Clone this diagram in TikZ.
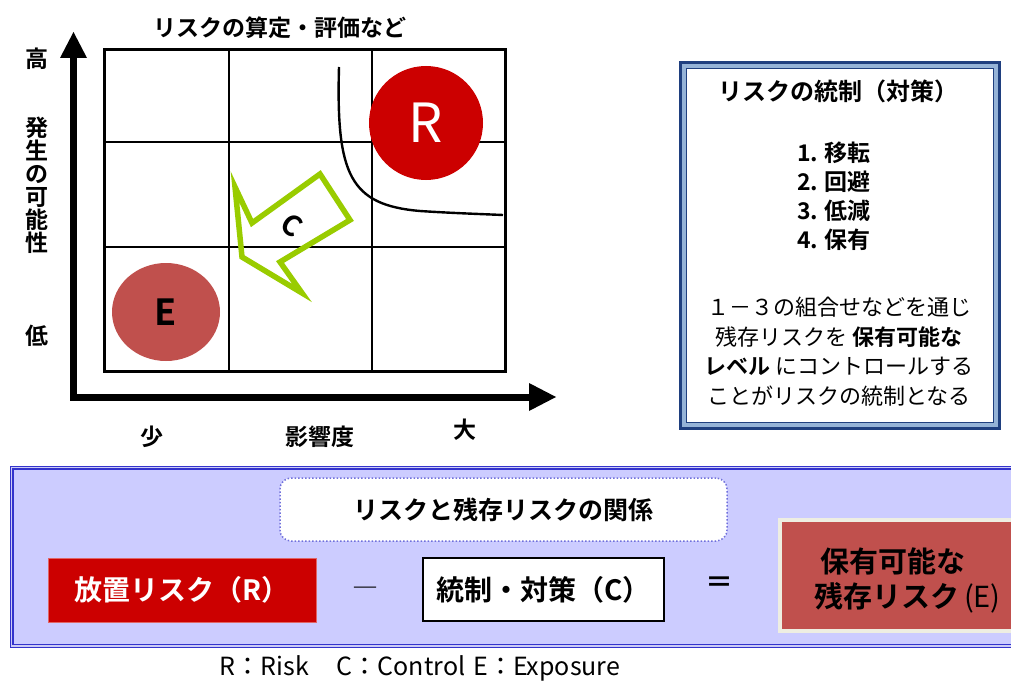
\documentclass[tikz,border=0pt]{standalone}
\usepackage{fontspec}
\setmainfont{Noto Sans CJK JP}[BoldFont={Noto Sans CJK JP Bold}]
\usetikzlibrary{shapes.geometric}
\definecolor{rred}{HTML}{CC0000}
\definecolor{ered}{HTML}{C0504D}
\definecolor{lgreen}{HTML}{99CC00}
\definecolor{dblue}{HTML}{1F3F7F}
\definecolor{mblue}{HTML}{95B3D7}
\definecolor{lav}{HTML}{CCCCFF}
\definecolor{pblue}{HTML}{3333CC}
\definecolor{beige}{HTML}{EEEEE2}
\newcommand{\fs}[1]{\fontsize{#1}{#1}\selectfont}
\tikzset{
  lbl/.style={inner sep=0pt, font=\fs{23}\bfseries},
  gridln/.style={line width=2pt},
  boxtxt/.style={inner sep=0pt, font=\fs{28}\bfseries},
}
\begin{document}
\begin{tikzpicture}[x=1pt,y=-1pt]
\useasboundingbox (0,0) rectangle (1011,682);
% title
\node[lbl] (t1) at (280,28) {リスクの算定・評価など};
% grid
\draw[line width=3pt] (104,50) rectangle (505,371);
\draw[gridln] (229,50) -- (229,371);
\draw[gridln] (372,50) -- (372,371);
\draw[gridln] (104,142) -- (505,142);
\draw[gridln] (104,247) -- (505,247);
% axes
\draw[line width=7pt, line join=miter] (73,56) -- (73,397) -- (532,397);
\fill (60,58) -- (73.5,32) -- (87,58) -- cycle;
\fill (529,383) -- (556,397) -- (529,411) -- cycle;
% axis labels
\node[lbl] (hi) at (37,59) {高};
\node[lbl, align=center, text depth=0pt] (py) at (37,184) {発\\[0pt]生\\[0pt]の\\[0pt]可\\[0pt]能\\[0pt]性};
\node[lbl] (lo) at (37,336) {低};
\node[lbl] (sm) at (152,437) {少};
\node[lbl] (im) at (320,437) {影響度};
\node[lbl] (bg) at (465,430) {大};
% curve
\draw[line width=2.4pt] (339,67) .. controls (336,175) and (350,205) .. (420,211) .. controls (450,213) and (480,214) .. (503,215);
% circles
\node[circle, fill=rred, minimum size=114pt, inner sep=0pt, text=white, font=\fs{54}] (R) at (426,123) {R};
\node[ellipse, fill=ered, minimum width=108pt, minimum height=98pt, inner sep=0pt, font=\fs{36}\bfseries] (E) at (166,312) {E};
% green arrow
\draw[lgreen, line width=5.5pt, line join=miter] (235,187) -- (242,257) -- (302,293) -- (280,262) -- (350,220) -- (320,174) -- (252,223) -- cycle;
\node[inner sep=0pt, rotate=-35] (C) at (292,225) {\fontsize{28}{28}\selectfont\bfseries C};
% right box
\draw[mblue, line width=6pt, fill=white] (683.5,65.5) rectangle (996.5,425.5);
\draw[dblue, line width=2.5pt] (680.5,62.5) rectangle (999.5,428.5);
\draw[dblue, line width=1.2pt] (686.5,68.5) rectangle (993.5,422.5);
\node[inner sep=0pt, font=\fs{24}\bfseries] (rt) at (838,91) {リスクの統制（対策）};
\node[inner sep=0pt, font=\fs{23}\bfseries, align=left, anchor=north west] (list) at (797,142) {1.\;移転\\[6pt]2.\;回避\\[6pt]3.\;低減\\[6pt]4.\;保有};
\node[inner sep=0pt, font=\fs{22}, align=center, anchor=north] (para) at (839,297) {１－３の組合せなどを通じ\\[7.5pt]残存リスクを {\bfseries 保有可能な}\\[7.5pt]{\bfseries レベル} にコントロールする\\[7.5pt]ことがリスクの統制となる};
% bottom panel
\draw[fill=lav, draw=pblue, line width=1.2pt, double=lav!50!pblue!40!white, double distance=1.6pt] (11.5,467.5) rectangle (1030,646);
\node[draw=pblue!70, dotted, line width=1.5pt, fill=white, rounded corners=11pt, minimum width=447pt, minimum height=63pt, inner sep=0pt, font=\fs{25}\bfseries] (rel) at (503.5,509.5) {リスクと残存リスクの関係};
\node[boxtxt, fill=rred, draw=rred!60, line width=1pt, minimum width=268pt, minimum height=64pt, text=white] (rb) at (182,590) {放置リスク（R）};
\node[inner sep=0pt, font=\fs{26}] (minus) at (365,592) {―};
\node[boxtxt, fill=white, draw=black, line width=1.5pt, minimum width=241pt, minimum height=63pt] (cb) at (543.5,589.5) {統制・対策（C）};
\node[boxtxt] (eq) at (719,585) {＝};
\node[fill=ered, draw=beige, line width=4pt, minimum width=260pt, minimum height=111pt, inner sep=0pt] (eb) at (910,575.5) {};
\node[inner sep=0pt, anchor=west, align=left, font=\fs{29}] (ebt) at (814,580) {\hspace{6pt}{\bfseries 保有可能な}\\[6pt]{\bfseries 残存リスク}\,(E)};
% caption
\node[inner sep=0pt, font=\fs{25}] (cap) at (420,668) {R：Risk\hspace{28pt}C：Control\hspace{8pt}E：Exposure};
\end{tikzpicture}
\end{document}
